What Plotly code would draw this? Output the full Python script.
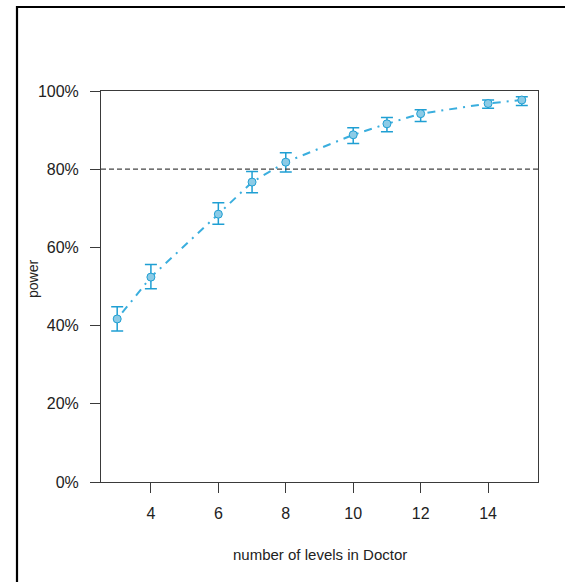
import plotly.graph_objects as go

# Simulated power by number of levels in Doctor (percent, with 95% CI)
levels = [3, 4, 6, 7, 8, 10, 11, 12, 14, 15]
power = [41.7, 52.4, 68.5, 76.7, 81.8, 88.8, 91.6, 94.2, 96.8, 97.7]
ci_lower = [38.6, 49.4, 65.9, 74.0, 79.3, 86.6, 89.6, 92.2, 95.6, 96.3]
ci_upper = [44.8, 55.6, 71.4, 79.4, 84.2, 90.6, 93.2, 95.2, 97.7, 98.5]

x_ticks = [4, 6, 8, 10, 12, 14]
y_ticks = [0, 20, 40, 60, 80, 100]
y_tick_text = [f"{v}%" for v in y_ticks]
target_power = 80

W, H = 565, 582
ML, MR, MT, MB = 101, 27, 91, 100
PW, PH = W - ML - MR, H - MT - MB

line_col = "#3aaede"
bar_col = "#1f9fd3"
fill_col = "#8ccbe6"
axis_col = "#3a3a3a"
text_col = "#222222"
font = "Liberation Sans, Arial, sans-serif"


def px_x(v):
    return (v - ML) / PW


def px_y(v):
    return (H - MB - v) / PH


fig = go.Figure()

fig.add_trace(go.Scatter(
    x=levels, y=power, mode="lines",
    line=dict(color=line_col, width=2, dash="2px,6px,8px,6px"),
    hoverinfo="skip", showlegend=False,
))

fig.add_trace(go.Scatter(
    x=levels, y=power, mode="markers",
    marker=dict(symbol="circle", size=8, color=fill_col,
                line=dict(color=bar_col, width=1)),
    error_y=dict(
        type="data", symmetric=False,
        array=[u - p for u, p in zip(ci_upper, power)],
        arrayminus=[p - l for p, l in zip(power, ci_lower)],
        color=bar_col, thickness=1.5, width=6,
    ),
    showlegend=False,
))

# reference power level
fig.add_shape(type="line", xref="paper", yref="y", x0=0, x1=1,
              y0=target_power, y1=target_power,
              line=dict(color="#444444", width=1.2, dash="5px,3px"))

# outer frame (left and top edges)
fig.add_shape(type="line", xref="paper", yref="paper",
              x0=px_x(17), x1=px_x(17), y0=px_y(600), y1=px_y(6),
              line=dict(color="black", width=2.2))
fig.add_shape(type="line", xref="paper", yref="paper",
              x0=px_x(16), x1=px_x(600), y0=px_y(7), y1=px_y(7),
              line=dict(color="black", width=2.2))

# axis titles
fig.add_annotation(text="number of levels in Doctor", xref="paper", yref="paper",
                   x=0.5, y=px_y(554), xanchor="center", yanchor="middle",
                   showarrow=False, font=dict(family=font, size=15, color=text_col))
fig.add_annotation(text="power", xref="paper", yref="paper",
                   x=px_x(33), y=px_y(279), xanchor="center", yanchor="middle",
                   textangle=-90, showarrow=False,
                   font=dict(family=font, size=14, color=text_col))

fig.update_xaxes(
    range=[2.52, 15.48], tickmode="array", tickvals=x_ticks,
    ticks="outside", ticklen=10, tickwidth=1, tickcolor=axis_col,
    showline=True, linecolor=axis_col, linewidth=1, mirror=True,
    showgrid=False, zeroline=False, ticklabelstandoff=7,
    tickfont=dict(family=font, size=16, color=text_col),
)
fig.update_yaxes(
    range=[0, 100], tickmode="array", tickvals=y_ticks, ticktext=y_tick_text,
    ticks="outside", ticklen=10, tickwidth=1, tickcolor=axis_col,
    showline=True, linecolor=axis_col, linewidth=1, mirror=True,
    showgrid=False, zeroline=False, ticklabelstandoff=8,
    tickfont=dict(family=font, size=16, color=text_col),
)

fig.update_layout(
    width=W, height=H,
    margin=dict(l=ML, r=MR, t=MT, b=MB),
    paper_bgcolor="white", plot_bgcolor="white",
)

fig.write_html("out.html")
